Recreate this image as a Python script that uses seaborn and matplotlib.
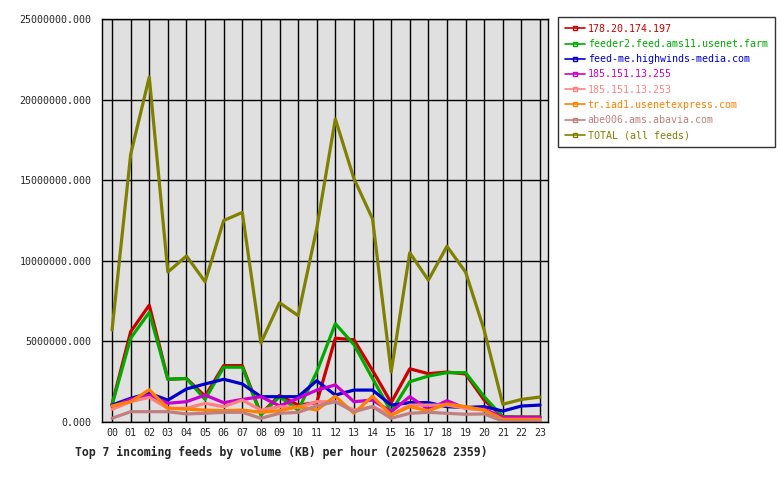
import pandas as pd
import matplotlib
matplotlib.use("Agg")
import matplotlib.pyplot as plt
import seaborn as sns
from matplotlib.lines import Line2D

# ----------------------------
# data (KB per hour)
# ----------------------------
hours = ["%02d" % h for h in range(24)]

feeds = [
    "178.20.174.197",
    "feeder2.feed.ams11.usenet.farm",
    "feed-me.highwinds-media.com",
    "185.151.13.255",
    "185.151.13.253",
    "tr.iad1.usenetexpress.com",
    "abe006.ams.abavia.com",
    "TOTAL (all feeds)",
]

red_vals = [1.1e6, 5.6e6, 7.25e6, 2.65e6, 2.7e6, 1.6e6, 3.5e6, 3.5e6, 0.5e6, 1.65e6, 1.05e6, 1.2e6,
            5.2e6, 5.1e6, 3.2e6, 1.2e6, 3.3e6, 3.0e6, 3.1e6, 2.98e6, 1.36e6, 0.33e6, 0.3e6, 0.3e6]
green_vals = [1.05e6, 5.2e6, 6.8e6, 2.65e6, 2.7e6, 1.4e6, 3.4e6, 3.4e6, 0.43e6, 1.57e6, 0.74e6, 3.1e6,
              6.1e6, 4.8e6, 2.7e6, 0.64e6, 2.5e6, 2.85e6, 3.06e6, 3.06e6, 1.57e6, 0.33e6, 0.3e6, 0.3e6]
blue_vals = [1.05e6, 1.47e6, 1.78e6, 1.36e6, 2.05e6, 2.36e6, 2.65e6, 2.36e6, 1.57e6, 1.57e6, 1.57e6, 2.56e6,
             1.67e6, 1.98e6, 1.98e6, 1.05e6, 1.2e6, 1.2e6, 0.95e6, 0.9e6, 0.95e6, 0.68e6, 0.99e6, 1.05e6]
magenta_vals = [0.95e6, 1.4e6, 1.67e6, 1.16e6, 1.26e6, 1.67e6, 1.2e6, 1.4e6, 1.57e6, 1.0e6, 1.47e6, 1.98e6,
                2.3e6, 1.26e6, 1.36e6, 0.64e6, 1.57e6, 0.79e6, 1.32e6, 0.85e6, 0.8e6, 0.29e6, 0.29e6, 0.29e6]
salmon_vals = [0.79e6, 1.26e6, 1.53e6, 0.85e6, 0.85e6, 1.16e6, 0.95e6, 1.36e6, 0.74e6, 0.95e6, 0.9e6, 1.26e6,
               1.26e6, 0.74e6, 0.95e6, 0.43e6, 1.05e6, 1.05e6, 1.05e6, 0.85e6, 0.74e6, 0.12e6, 0.12e6, 0.12e6]
orange_vals = [1.0e6, 1.26e6, 2.0e6, 0.85e6, 0.8e6, 0.74e6, 0.7e6, 0.74e6, 0.6e6, 0.7e6, 0.95e6, 0.74e6,
               1.6e6, 0.54e6, 1.6e6, 0.43e6, 0.95e6, 0.7e6, 1.12e6, 0.95e6, 0.74e6, 0.17e6, 0.17e6, 0.17e6]
rosy_vals = [0.23e6, 0.64e6, 0.64e6, 0.64e6, 0.5e6, 0.54e6, 0.6e6, 0.6e6, 0.23e6, 0.54e6, 0.6e6, 1.0e6,
             1.26e6, 0.64e6, 0.95e6, 0.23e6, 0.54e6, 0.6e6, 0.54e6, 0.48e6, 0.5e6, 0.05e6, 0.05e6, 0.05e6]
total_vals = [5.7e6, 16.6e6, 21.4e6, 9.3e6, 10.3e6, 8.7e6, 12.5e6, 13.0e6, 4.9e6, 7.4e6, 6.6e6, 12.0e6,
              18.8e6, 15.1e6, 12.6e6, 3.1e6, 10.5e6, 8.8e6, 10.9e6, 9.3e6, 5.7e6, 1.1e6, 1.4e6, 1.55e6]

series = [red_vals, green_vals, blue_vals, magenta_vals, salmon_vals, orange_vals, rosy_vals, total_vals]
colors = ["#CC0000", "#00AA00", "#0000CC", "#CC00CC", "#FF8080", "#FF8000", "#C08080", "#808000"]

rows = []
for name, vals in zip(feeds, series):
    for i, v in enumerate(vals):
        rows.append({"hour": i, "feed": name, "kb": v})
df = pd.DataFrame(rows)

# ----------------------------
# plot
# ----------------------------
sns.set_style("white")
plt.rcParams["font.family"] = ["DejaVu Sans Mono", "DejaVu Sans"]

fig = plt.figure(figsize=(7.8, 4.8), dpi=100)
ax = fig.add_axes([102 / 780, 58 / 480, 446 / 780, 403 / 480])
ax.set_facecolor("#E0E0E0")

sns.lineplot(data=df, x="hour", y="kb", hue="feed", hue_order=feeds,
             palette=colors, linewidth=2.3, legend=False, ax=ax)

ax.set_xlim(-0.54, 23.43)
ax.set_ylim(0, 25000000)
ax.set_xticks(range(24))
ax.set_xticklabels(hours)
ax.set_yticks(range(0, 25000001, 5000000))
ax.set_yticklabels(["%.3f" % v for v in range(0, 25000001, 5000000)])
ax.grid(True, color="black", linewidth=1.0)
ax.set_axisbelow(True)
ax.set_xlabel("")
ax.set_ylabel("")
ax.tick_params(axis="both", labelsize=7.2, length=4, width=1, color="black", direction="out")
ax.tick_params(axis="x", length=0, pad=4)
for s in ax.spines.values():
    s.set_color("black")
    s.set_linewidth(1.0)

handles = [Line2D([0], [0], color=c, linewidth=1.2, marker="s", markersize=2.5,
                  markerfacecolor="none", markeredgecolor=c) for c in colors]
leg = fig.legend(handles, feeds, loc="upper left", bbox_to_anchor=(558 / 780, 1 - 17 / 480),
                 frameon=True, fancybox=False, edgecolor="black", fontsize=7.2,
                 handlelength=2.0, handletextpad=0.3, labelspacing=0.52, borderpad=0.68,
                 borderaxespad=0)
leg.get_frame().set_linewidth(1.0)
for txt, c in zip(leg.get_texts(), colors):
    txt.set_color(c)

fig.text(75 / 780, 1 - 452 / 480, "Top 7 incoming feeds by volume (KB) per hour (20250628 2359)",
         fontsize=8.3, fontweight="bold", va="center", ha="left")

fig.savefig("out.png", dpi=100)
